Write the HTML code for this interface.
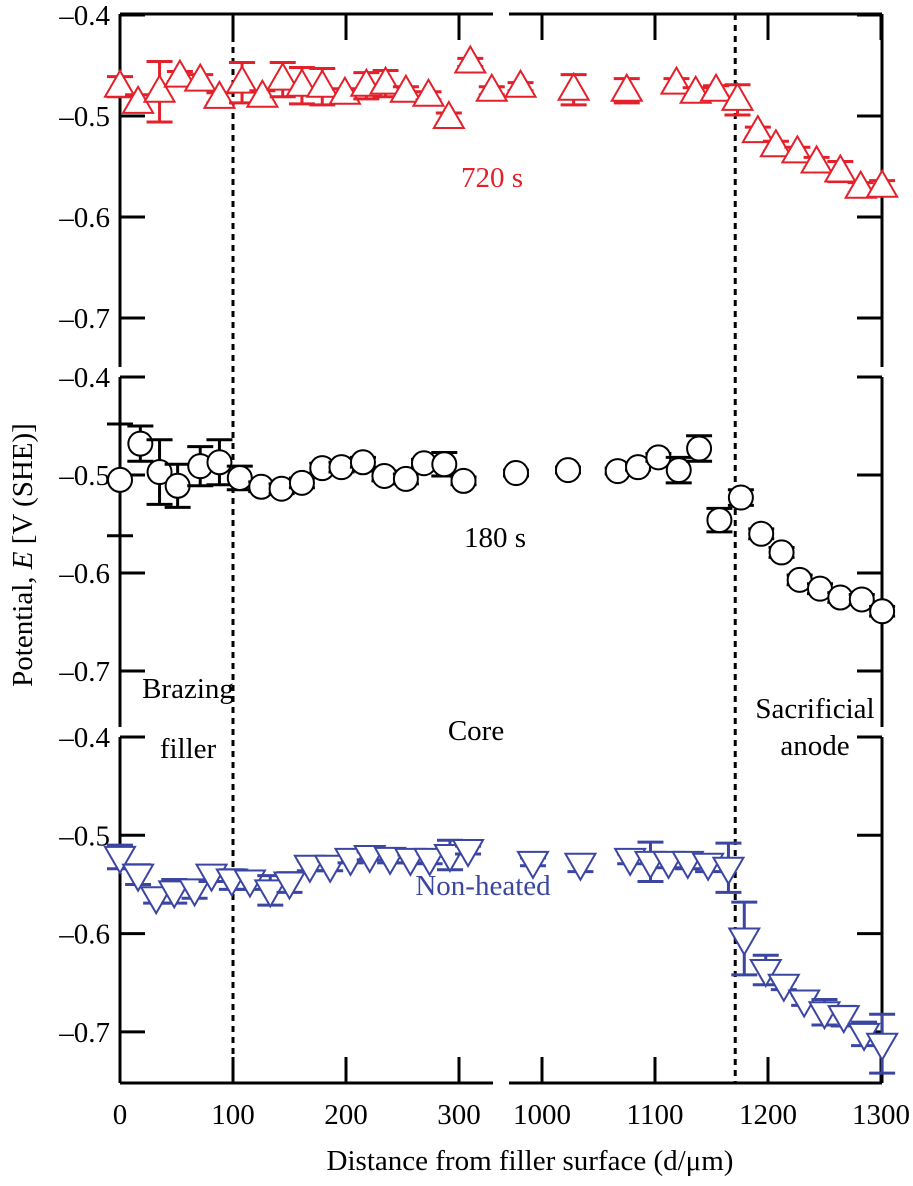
<!DOCTYPE html>
<html><head><meta charset="utf-8"><style>
html,body{margin:0;padding:0;background:#fff}
svg{display:block}
text{font-family:"Liberation Serif",serif;font-size:29px}
</style></head><body>
<svg id="chart" width="913" height="1186" viewBox="0 0 913 1186" xmlns="http://www.w3.org/2000/svg"></svg>
<script>
// ---- data ----
const d720 = [0,16,35,53,71,88,108,126,144,161,179,199,218,235,253,273,291,310,329,981,1028,1075,1119,1136,1154,1173,1191,1207,1226,1243,1264,1282,1301];
const v720 = [-0.471,-0.487,-0.476,-0.461,-0.465,-0.482,-0.467,-0.481,-0.464,-0.47,-0.471,-0.478,-0.47,-0.468,-0.476,-0.48,-0.502,-0.447,-0.475,-0.471,-0.474,-0.475,-0.468,-0.477,-0.475,-0.484,-0.516,-0.53,-0.536,-0.546,-0.555,-0.571,-0.57];
const e720 = [0.01,0.008,0.03,0.005,0.006,0.005,0.02,0.006,0.017,0.018,0.018,0.005,0.013,0.013,0.005,0.004,0.005,0.004,0.004,0.004,0.015,0.012,0.005,0.005,0.005,0.015,0.005,0.005,0.005,0.005,0.01,0.005,0.006];
const d180 = [0,18,35,51,71,88,106,125,143,161,179,196,215,234,253,269,287,304,977,1023,1067,1085,1103,1121,1139,1157,1176,1194,1212,1228,1246,1264,1283,1301];
const v180 = [-0.505,-0.468,-0.497,-0.511,-0.491,-0.487,-0.503,-0.512,-0.514,-0.508,-0.493,-0.492,-0.487,-0.501,-0.504,-0.488,-0.489,-0.506,-0.498,-0.495,-0.496,-0.492,-0.482,-0.495,-0.473,-0.546,-0.523,-0.56,-0.579,-0.607,-0.616,-0.625,-0.627,-0.639];
const e180 = [0.057,0.018,0.033,0.022,0.02,0.023,0.012,0.005,0.005,0.005,0.005,0.005,0.005,0.005,0.005,0.004,0.012,0.004,0.003,0.003,0.003,0.003,0.004,0.013,0.013,0.012,0.008,0.005,0.005,0.005,0.005,0.005,0.005,0.005];
const dNH = [0,16,32,48,66,81,99,115,133,150,168,186,204,221,239,257,274,292,308,992,1034,1078,1096,1112,1129,1147,1165,1179,1198,1214,1232,1250,1267,1285,1301];
const vNH = [-0.522,-0.54,-0.563,-0.557,-0.555,-0.54,-0.545,-0.546,-0.556,-0.548,-0.531,-0.531,-0.524,-0.521,-0.523,-0.524,-0.524,-0.52,-0.515,-0.527,-0.529,-0.524,-0.527,-0.527,-0.527,-0.529,-0.533,-0.605,-0.637,-0.652,-0.668,-0.68,-0.684,-0.702,-0.712];
const eNH = [0.012,0.01,0.006,0.012,0.009,0.007,0.01,0.009,0.015,0.01,0.005,0.005,0.004,0.004,0.005,0.004,0.005,0.015,0.004,0.004,0.008,0.005,0.02,0.006,0.007,0.008,0.025,0.037,0.015,0.005,0.005,0.013,0.01,0.012,0.03];
const yTicks = [-0.4,-0.5,-0.6,-0.7];
const xTicksL = [0,100,200,300];
const xTicksR = [1000,1100,1200,1300];

const NS="http://www.w3.org/2000/svg";
const svg=document.getElementById('chart');
function el(tag,attrs,parent){const e=document.createElementNS(NS,tag);for(const k in attrs)e.setAttribute(k,attrs[k]);(parent||svg).appendChild(e);return e;}
function xs(d){return d<500?120+d*1.13:542+(d-1000)*1.13;}
const panels=[{top:15,ppt:1010,y0:14,y1:367},{top:377,ppt:980,y0:377,y1:727},{top:737,ppt:983,y0:737,y1:1083}];
function ys(p,v){return p.top+(-0.4-v)*p.ppt;}
const K='#000';

panels.forEach((p,i)=>{
  const g=el('g',{});
  
  
  el('line',{x1:120,y1:p.y0,x2:120,y2:p.y1,stroke:K,'stroke-width':3},g);
  el('line',{x1:882,y1:p.y0,x2:882,y2:p.y1,stroke:K,'stroke-width':3},g);
  yTicks.forEach(t=>{
    const y=ys(p,t);
    el('line',{x1:120,y1:y,x2:145,y2:y,stroke:K,'stroke-width':3},g);
    el('line',{x1:857,y1:y,x2:882,y2:y,stroke:K,'stroke-width':3},g);
    const tx=el('text',{x:110,y:y+10,'text-anchor':'end'},g);
    tx.textContent='\u2013'+Math.abs(t).toFixed(1);
    
    
  });
});
[[14,1],[1083,-1]].forEach(([y,dir])=>{
  el('line',{x1:120,y1:y,x2:493,y2:y,stroke:K,'stroke-width':3});
  el('line',{x1:509,y1:y,x2:882,y2:y,stroke:K,'stroke-width':3});
  xTicksL.concat(xTicksR).forEach(t=>{
    el('line',{x1:xs(t),y1:y,x2:xs(t),y2:y+dir*26,stroke:K,'stroke-width':3});
  });
});
xTicksL.concat(xTicksR).forEach(t=>{
  const tx=el('text',{x:xs(t),y:1124,'text-anchor':'middle'});
  tx.textContent=t;
  
  
});
[100,1171].forEach(d=>{
  const l=el('line',{x1:xs(d),y1:14,x2:xs(d),y2:1083,stroke:K,'stroke-width':3,'stroke-dasharray':'6,5'});
  
  
});

function series(p,ds,vs,es,col,shape,name){
  const g=el('g',{});
  
  
  ds.forEach((d,i)=>{
    const x=xs(d),y=ys(p,vs[i]),ya=ys(p,vs[i]+es[i]),yb=ys(p,vs[i]-es[i]);
    el('line',{x1:x,y1:ya,x2:x,y2:yb,stroke:col,'stroke-width':3},g);
    el('line',{x1:x-13,y1:ya,x2:x+13,y2:ya,stroke:col,'stroke-width':3},g);
    el('line',{x1:x-13,y1:yb,x2:x+13,y2:yb,stroke:col,'stroke-width':3},g);
    let m;
    if(shape==='c') m=el('circle',{cx:x,cy:y,r:12,fill:'#fff',stroke:col,'stroke-width':2},g);
    else if(shape==='u') m=el('polygon',{points:`${x},${y-16} ${x-15},${y+10} ${x+15},${y+10}`,fill:'#fff',stroke:col,'stroke-width':2},g);
    else m=el('polygon',{points:`${x},${y+16} ${x-15},${y-10} ${x+15},${y-10}`,fill:'#fff',stroke:col,'stroke-width':2},g);
    
    
  });
}
series(panels[0],d720,v720,e720,'#e4202a','u','series-720s');
series(panels[1],d180,v180,e180,'#000','c','series-180s');
series(panels[2],dNH,vNH,eNH,'#3b46a2','d','series-non-heated');

function label(x,y,t,col,name,anchor){const e=el('text',{x:x,y:y,fill:col,'text-anchor':anchor||'middle'});e.textContent=t;return e;}
label(492,187,'720 s','#e4202a','label-720s');
label(495,547,'180 s','#000','label-180s');
label(483,895,'Non-heated','#3b46a2','label-non-heated');
label(188,698,'Brazing','#000','label-brazing-filler');
label(188,758,'filler','#000','label-brazing-filler-2');
label(476,740,'Core','#000','label-core');
label(815,718,'Sacrificial','#000','label-sacrificial-anode');
label(815,755,'anode','#000','label-sacrificial-anode-2');
label(530,1170,'Distance from filler surface (d/\u03bcm)','#000','x-axis-title');
const yt=el('text',{x:0,y:0,'text-anchor':'middle',transform:'translate(32,555) rotate(-90)'});


yt.innerHTML='Potential, <tspan font-style="italic">E</tspan> [V (SHE)]';
</script>
</body></html>
